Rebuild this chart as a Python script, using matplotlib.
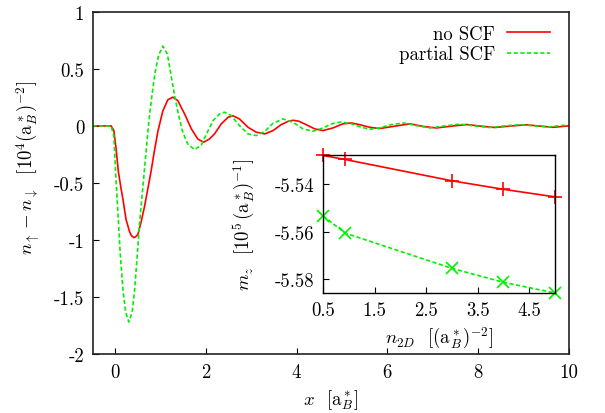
import matplotlib
matplotlib.use('Agg')
import matplotlib.pyplot as plt

plt.rcParams['font.family'] = 'cmr10'
plt.rcParams['mathtext.fontset'] = 'cm'
plt.rcParams['axes.unicode_minus'] = False
plt.rcParams['font.size'] = 13.5

# spin density profile
red_x = [-0.5, -0.09, -0.03, 0.02, 0.07, 0.13, 0.17, 0.24, 0.32, 0.36, 0.41, 0.45, 0.50, 0.57,
         0.65, 0.72, 0.79, 0.86, 0.94, 1.05, 1.16, 1.27, 1.38, 1.53, 1.68, 1.82, 1.95,
         2.08, 2.19, 2.34, 2.49, 2.60, 2.74, 2.93, 3.11, 3.30, 3.48, 3.66, 3.83, 3.93,
         4.05, 4.22, 4.40, 4.58, 4.80, 5.02, 5.21, 5.39, 5.61, 5.83, 6.17, 6.50, 6.80,
         7.08, 7.42, 7.75, 8.06, 8.37, 8.72, 9.07, 9.37, 9.66, 10.0]
red_y = [0.0, 0.0, -0.04, -0.20, -0.40, -0.55, -0.64, -0.82, -0.93, -0.962, -0.978, -0.972, -0.95, -0.845,
         -0.70, -0.55, -0.40, -0.23, -0.05, 0.13, 0.228, 0.252, 0.222, 0.105, -0.026, -0.114, -0.143,
         -0.114, -0.07, 0.018, 0.076, 0.088, 0.061, -0.012, -0.055, -0.070, -0.041, 0.011, 0.043, 0.049,
         0.041, 0.009, -0.026, -0.041, -0.018, 0.018, 0.026, 0.011, -0.012, -0.023, -0.002, 0.018, -0.005,
         -0.018, -0.002, 0.012, -0.002, -0.014, -0.001, 0.010, -0.002, -0.012, 0.0]

green_x = [-0.5, -0.09, -0.03, 0.01, 0.06, 0.11, 0.17, 0.23, 0.30, 0.375, 0.43, 0.485, 0.54,
           0.60, 0.68, 0.74, 0.81, 0.88, 0.956, 1.05, 1.15, 1.22, 1.31, 1.40, 1.49, 1.60,
           1.75, 1.90, 2.02, 2.16, 2.30, 2.41, 2.56, 2.74, 2.93, 3.11, 3.30, 3.48, 3.70,
           3.92, 4.14, 4.36, 4.58, 4.77, 4.99, 5.21, 5.43, 5.61, 5.83, 6.06, 6.35, 6.65,
           6.94, 7.27, 7.60, 7.93, 8.26, 8.59, 8.92, 9.24, 9.55, 9.80, 10.0]
green_y = [0.0, 0.0, -0.085, -0.41, -0.757, -1.11, -1.43, -1.63, -1.717, -1.63, -1.43, -1.14, -0.845,
           -0.58, -0.23, 0.032, 0.266, 0.47, 0.617, 0.699, 0.63, 0.47, 0.266, 0.09, -0.055, -0.158,
           -0.208, -0.167, -0.065, 0.047, 0.105, 0.12, 0.09, 0.003, -0.07, -0.085, -0.047, 0.023, 0.061,
           0.032, -0.026, -0.047, -0.018, 0.018, 0.035, 0.018, -0.012, -0.029, -0.018, 0.009, 0.026, 0.002,
           -0.018, 0.0, 0.016, 0.0, -0.014, 0.0, 0.011, 0.0, -0.009, 0.002, 0.008]

# inset: magnetization vs density
n2d = [0.5, 0.93, 3.0, 4.0, 5.0]
mz_noscf = [-5.5278, -5.5295, -5.5385, -5.5421, -5.5453]
mz_partial = [-5.5533, -5.5606, -5.5755, -5.5814, -5.5859]

xticks = [0, 2, 4, 6, 8, 10]
yticks = [1, 0.5, 0, -0.5, -1, -1.5, -2]
ytick_labels = ['1', '0.5', '0', '-0.5', '-1', '-1.5', '-2']
in_xticks = [0.5, 1.5, 2.5, 3.5, 4.5]
in_yticks = [-5.54, -5.56, -5.58]

red = '#ff0000'
green = '#00f000'

fig = plt.figure(figsize=(6.05, 4.14), dpi=100)
ax = fig.add_axes([0.1529, 0.1418, 0.7871, 0.8275])

ax.plot(red_x, red_y, color=red, lw=1.2, label='no SCF')
ax.plot(green_x, green_y, color=green, lw=1.2, dashes=(2.5, 1.5), label='partial SCF')

ax.set_xlim(-0.5, 10)
ax.set_ylim(-2, 1)
ax.set_xticks(xticks)
ax.set_xticklabels([str(t) for t in xticks])
ax.set_yticks(yticks)
ax.set_yticklabels(ytick_labels)
ax.tick_params(direction='in', length=4, width=0.8, pad=6)
ax.set_xlabel(r'$x$  $[\mathrm{a}_B^*]$')
ax.set_ylabel(r'$n_\uparrow - n_\downarrow$  $[10^4(\mathrm{a}_B^*)^{-2}]$')
ax.xaxis.set_label_coords(0.5, -0.097)
ax.yaxis.set_label_coords(-0.106, 0.547)
for s in ax.spines.values():
    s.set_linewidth(1.2)
    s.set_color('#222222')

ax.legend(loc='upper right', bbox_to_anchor=(0.961, 0.962), frameon=False,
          markerfirst=False, handlelength=2.3, handletextpad=0.64,
          labelspacing=0.15, borderpad=0, borderaxespad=0)

# inset
axi = fig.add_axes([0.5339, 0.2899, 0.3835, 0.3333])
axi.set_facecolor('white')
axi.plot(n2d, mz_noscf, color=red, lw=1.2, marker='+', ms=10, mew=1.2, clip_on=False)
axi.plot(n2d, mz_partial, color=green, lw=1.2, dashes=(2.5, 1.5), marker='x', ms=8, mew=1.2,
         clip_on=False)
axi.set_xlim(0.5, 5.0)
axi.set_ylim(-5.5859, -5.5276)
axi.set_xticks(in_xticks)
axi.set_xticklabels([str(t) for t in in_xticks])
axi.set_yticks(in_yticks)
axi.set_yticklabels([str(t) for t in in_yticks])
axi.tick_params(direction='in', length=4, width=0.8, pad=6)
axi.set_xlabel(r'$n_{2D}$  $[(\mathrm{a}_B^*)^{-2}]$')
axi.set_ylabel(r'$m_z$  $[10^5\,(\mathrm{a}_B^*)^{-1}]$')
axi.xaxis.set_label_coords(0.5, -0.232)
axi.yaxis.set_label_coords(-0.285, 0.5)
for s in axi.spines.values():
    s.set_linewidth(1.0)
    s.set_color('black')

fig.savefig('out.png', dpi=100)
